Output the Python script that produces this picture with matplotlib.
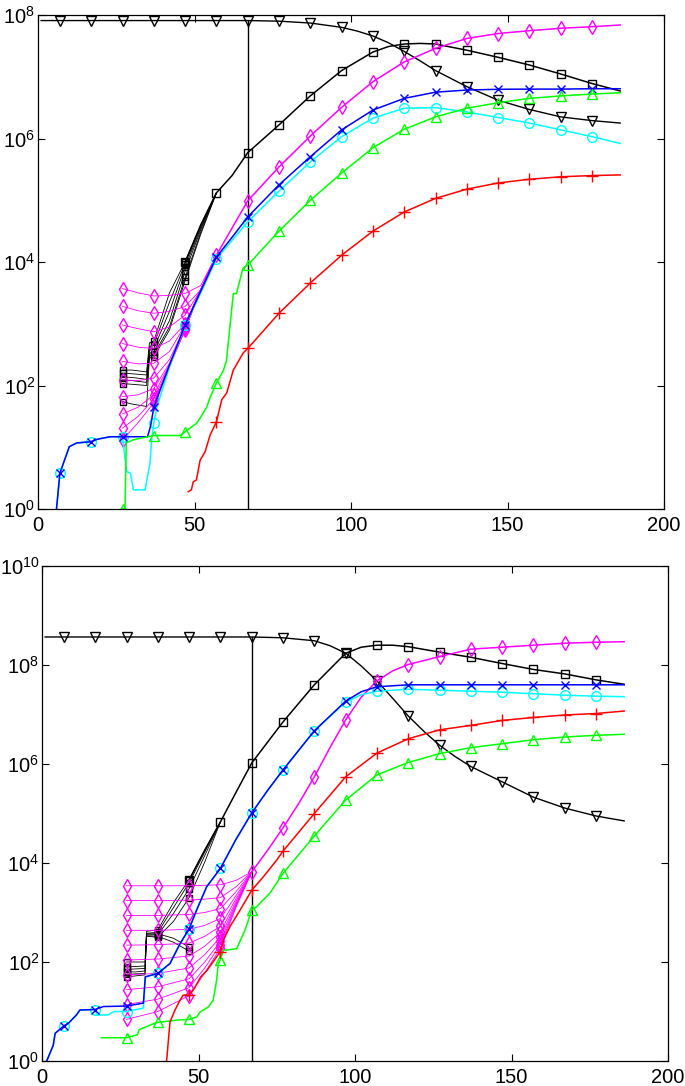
import numpy as np
import matplotlib
matplotlib.use('Agg')
import matplotlib.pyplot as plt
from matplotlib.ticker import NullLocator

plt.rcParams['font.family'] = ['Liberation Sans', 'DejaVu Sans']
plt.rcParams['mathtext.default'] = 'regular'

# marker positions along the curves
MARKS = list(range(7, 178, 10))
X_SWITCH = 67  # vertical line

# ---------------- top panel (log10 of the values) ----------------
top_tri_x = [1, 7, 17, 27, 37, 47, 57, 67, 77, 87, 97, 102, 107, 112, 117, 122, 127, 132, 137, 147, 157, 167, 177, 186]
top_tri_y = [7.91, 7.91, 7.91, 7.91, 7.91, 7.91, 7.91, 7.91, 7.90, 7.87, 7.80, 7.74, 7.66, 7.55, 7.41, 7.26, 7.10, 6.97,
             6.84, 6.62, 6.47, 6.35, 6.29, 6.25]

top_sq_x = [47, 52, 57, 62, 67, 77, 87, 97, 107, 112, 117, 122, 127, 137, 147, 157, 167, 177, 186]
top_sq_y = [4.00, 4.60, 5.12, 5.40, 5.77, 6.22, 6.69, 7.10, 7.40, 7.49, 7.53, 7.54, 7.53, 7.43, 7.315, 7.19, 7.045, 6.89, 6.77]

top_mag_x = [47, 52, 57, 62, 67, 77, 87, 97, 107, 117, 127, 137, 147, 157, 167, 177, 186]
top_mag_y = [2.98, 3.55, 4.11, 4.55, 4.99, 5.54, 6.04, 6.505, 6.92, 7.24, 7.46, 7.62, 7.70, 7.746, 7.785, 7.81, 7.838]

top_blue_x = [5.9, 7, 10, 12.4, 17, 19, 23, 27, 35, 36, 37, 42, 47, 52, 57, 62, 67, 77, 87, 97, 107, 117, 127, 137,
              147, 157, 167, 177, 186]
top_blue_y = [0.0, 0.58, 1.01, 1.07, 1.09, 1.13, 1.17, 1.17, 1.17, 1.35, 1.65, 2.33, 2.98, 3.53, 4.08, 4.40, 4.73, 5.25,
              5.705, 6.14, 6.46, 6.65, 6.75, 6.785, 6.797, 6.80, 6.80, 6.806, 6.806]

top_cyan_x = [5.9, 7, 10, 12.4, 17, 19, 23, 27, 28.3, 29.5, 30.5, 34.2, 35.8, 36.3, 37, 38, 42, 47, 52, 57, 62, 67, 77,
              87, 97, 107, 117, 127, 137, 147, 157, 167, 177, 186]
top_cyan_y = [0.0, 0.58, 1.01, 1.07, 1.09, 1.13, 1.17, 1.17, 0.61, 0.58, 0.31, 0.31, 0.75, 1.12, 1.40, 1.65, 2.30, 2.98,
              3.50, 4.05, 4.35, 4.65, 5.15, 5.62, 6.03, 6.33, 6.49, 6.50, 6.43, 6.34, 6.25, 6.14, 6.03, 5.92]

top_green_x = [27, 27.8, 28.2, 30.4, 37, 45.4, 47, 50.7, 52, 53.9, 55, 57, 59.2, 60.2, 62.4, 63.4, 65.5, 67, 77, 87, 97,
               107, 117, 127, 137, 147, 157, 167, 177, 186]
top_green_y = [0.0, 0.0, 1.07, 1.12, 1.19, 1.19, 1.25, 1.39, 1.49, 1.65, 1.81, 2.04, 2.24, 2.40, 3.49, 3.49, 3.90, 3.95,
               4.50, 5.00, 5.44, 5.85, 6.15, 6.35, 6.49, 6.58, 6.65, 6.69, 6.72, 6.74]

top_red_x = [48, 49, 49.6, 50.6, 51.8, 53.4, 55, 57, 58.7, 60.3, 62.4, 65.6, 67, 77, 87, 97, 107, 117, 127, 137, 147,
             157, 167, 177, 186]
top_red_y = [0.28, 0.31, 0.44, 0.47, 0.79, 0.93, 1.20, 1.41, 1.77, 1.88, 2.25, 2.53, 2.60, 3.17, 3.66, 4.11, 4.50, 4.81,
             5.03, 5.18, 5.28, 5.34, 5.38, 5.40, 5.41]

# ensemble runs (thin lines) in the top panel
top_mag_ens_x = [27, 32, 37, 42, 47, 52, 57]
top_mag_ens_y = [
    [3.57, 3.50, 3.45, 3.46, 3.49, 3.62, 4.11],
    [3.28, 3.21, 3.17, 3.20, 3.28, 3.55, 4.11],
    [2.98, 2.92, 2.87, 2.95, 3.14, 3.55, 4.11],
    [2.68, 2.62, 2.60, 2.72, 3.00, 3.55, 4.11],
    [2.39, 2.35, 2.36, 2.55, 2.98, 3.55, 4.11],
    [2.09, 2.08, 2.12, 2.42, 2.95, 3.55, 4.11],
    [1.82, 1.85, 1.95, 2.36, 2.93, 3.55, 4.11],
    [1.54, 1.65, 1.85, 2.34, 2.92, 3.55, 4.11],
    [1.31, 1.50, 1.78, 2.32, 2.91, 3.55, 4.11],
    [1.12, 1.40, 1.72, 2.30, 2.90, 3.55, 4.11],
]
top_blk_ens_x = [27, 30, 34.7, 35.6, 37, 42, 47, 52, 57]
top_blk_ens_y = [
    [2.25, 2.25, 2.22, 2.69, 2.72, 3.50, 4.00, 4.60, 5.12],
    [2.20, 2.19, 2.17, 2.63, 2.66, 3.35, 3.97, 4.58, 5.12],
    [2.14, 2.13, 2.10, 2.57, 2.60, 3.20, 3.92, 4.55, 5.12],
    [2.09, 2.08, 2.05, 2.52, 2.55, 3.05, 3.85, 4.52, 5.12],
    [2.03, 2.02, 2.00, 2.48, 2.50, 2.95, 3.75, 4.48, 5.12],
    [1.74, 1.70, 1.66, 2.45, 2.46, 2.90, 3.70, 4.45, 5.12],
]

# ---------------- bottom panel (log10 of the values) ----------------
bot_tri_x = [1, 7, 17, 27, 37, 47, 57, 67, 77, 87, 92, 97, 102, 107, 112, 117, 122, 127, 132, 137, 147, 157, 167, 177, 186]
bot_tri_y = [8.566, 8.566, 8.566, 8.566, 8.566, 8.566, 8.566, 8.566, 8.55, 8.49, 8.39, 8.24, 7.98, 7.68, 7.33, 6.97,
             6.66, 6.38, 6.15, 5.95, 5.64, 5.33, 5.11, 4.95, 4.85]

bot_sq_x = [47, 52, 57, 62, 67, 77, 87, 97, 102, 107, 112, 117, 127, 137, 147, 157, 167, 177, 186]
bot_sq_y = [3.66, 4.26, 4.83, 5.43, 6.02, 6.85, 7.60, 8.236, 8.36, 8.40, 8.40, 8.37, 8.26, 8.156, 8.03, 7.91, 7.82, 7.70, 7.61]

bot_mag_x = [67, 72, 77, 82, 87, 92, 97, 102, 107, 112, 117, 127, 137, 147, 157, 167, 177, 186]
bot_mag_y = [3.82, 4.25, 4.71, 5.20, 5.74, 6.33, 6.89, 7.35, 7.68, 7.88, 8.01, 8.17, 8.32, 8.36, 8.40, 8.44, 8.46, 8.47]

bot_blue_x = [1.5, 3.6, 4.2, 7, 8.4, 11, 12.1, 17, 19.6, 27, 32.4, 33, 37, 40.9, 44.1, 47, 49.4, 52.6, 57, 62, 67, 72,
              77, 87, 97, 102, 107, 117, 127, 137, 147, 157, 167, 177, 186]
bot_blue_y = [0.0, 0.32, 0.56, 0.71, 0.76, 0.93, 1.03, 1.04, 1.10, 1.11, 1.17, 1.70, 1.77, 1.97, 2.37, 2.67, 3.05, 3.52,
              3.89, 4.48, 5.01, 5.46, 5.88, 6.67, 7.27, 7.46, 7.56, 7.60, 7.60, 7.60, 7.60, 7.60, 7.60, 7.60, 7.60]

bot_cyan_x = [1.5, 3.6, 4.2, 7, 8.4, 11, 12.1, 17, 17.5, 21, 23, 27, 32.4, 33, 37, 40.9, 44.1, 47, 49.4, 52.6, 57, 62,
              67, 72, 77, 87, 97, 102, 107, 117, 127, 137, 147, 157, 167, 177, 186]
bot_cyan_y = [0.0, 0.32, 0.56, 0.71, 0.76, 0.93, 1.03, 1.04, 0.93, 0.93, 1.00, 1.00, 1.07, 1.70, 1.77, 1.97, 2.37, 2.67,
              3.05, 3.52, 3.89, 4.48, 5.01, 5.46, 5.88, 6.67, 7.25, 7.40, 7.47, 7.51, 7.49, 7.47, 7.45, 7.42, 7.39,
              7.37, 7.36]

bot_green_x = [19, 27, 30.5, 31, 35.8, 37, 43.8, 47, 49.4, 50.5, 53.1, 54.7, 55.8, 56.3, 57, 58, 59, 62.2, 64.9, 67,
               68.6, 72.8, 77, 87, 97, 107, 117, 127, 137, 147, 157, 167, 177, 186]
bot_green_y = [0.47, 0.47, 0.53, 0.63, 0.76, 0.78, 0.83, 0.84, 0.89, 0.99, 1.09, 1.23, 1.64, 1.95, 2.05, 2.24, 2.24,
               2.27, 2.65, 3.05, 3.12, 3.39, 3.79, 4.545, 5.27, 5.78, 6.03, 6.21, 6.33, 6.41, 6.49, 6.545, 6.58, 6.60]

bot_red_x = [39.8, 40.9, 42.5, 44.1, 45.1, 47, 48.7, 50.7, 52.7, 57, 58, 60.1, 63.3, 67, 70.7, 75, 77, 87, 97, 107,
             117, 127, 137, 147, 157, 167, 177, 186]
bot_red_y = [0.0, 0.79, 1.03, 1.23, 1.33, 1.33, 1.47, 1.70, 1.83, 2.21, 2.45, 2.72, 3.05, 3.45, 3.72, 4.06, 4.24, 5.0,
             5.74, 6.22, 6.51, 6.69, 6.78, 6.88, 6.94, 6.99, 7.02, 7.07]

bot_mag_ens_x = [27, 37, 47, 52, 57, 62, 67]
bot_mag_ens_y = [
    [3.54, 3.54, 3.54, 3.55, 3.56, 3.65, 3.82],
    [3.24, 3.24, 3.25, 3.27, 3.30, 3.52, 3.82],
    [2.94, 2.94, 2.96, 3.00, 3.08, 3.42, 3.82],
    [2.64, 2.64, 2.66, 2.74, 2.88, 3.34, 3.82],
    [2.34, 2.35, 2.38, 2.52, 2.72, 3.28, 3.82],
    [2.04, 2.06, 2.12, 2.32, 2.60, 3.23, 3.82],
    [1.74, 1.77, 1.88, 2.15, 2.50, 3.19, 3.82],
    [1.44, 1.50, 1.66, 2.00, 2.42, 3.16, 3.82],
    [1.14, 1.25, 1.48, 1.88, 2.35, 3.13, 3.82],
    [0.84, 1.00, 1.32, 1.78, 2.28, 3.11, 3.82],
]
bot_blk_ens_x = [27, 30, 32.9, 33.4, 37, 42, 47, 52, 57]
bot_blk_ens_y = [
    [2.00, 2.00, 2.00, 2.62, 2.65, 3.20, 3.66, 4.26, 4.83],
    [1.90, 1.91, 1.92, 2.58, 2.60, 3.10, 3.60, 4.22, 4.83],
    [1.80, 1.80, 1.82, 2.55, 2.55, 2.98, 3.48, 4.15, 4.83],
    [1.70, 1.72, 1.74, 2.52, 2.50, 2.82, 3.30, 4.02, 4.83],
]
bot_blk_cut_x = [27, 30, 32.9, 33.4, 37, 42, 47]
bot_blk_cut_y = [
    [1.85, 1.86, 1.87, 2.57, 2.57, 2.48, 2.30],
    [1.75, 1.76, 1.77, 2.53, 2.52, 2.40, 2.22],
]


def curve(ax, xs, ys, color, marker=None, ms=6, lw=1.0, marks=MARKS):
    xs = np.asarray(xs, float)
    vals = 10.0 ** np.asarray(ys, float)
    idx = [i for i, v in enumerate(xs) if v in marks]
    ax.plot(xs, vals, color=color, lw=lw, marker=marker, ms=ms, mfc='none',
            mec=color, mew=1.0, markevery=idx, clip_on=True)


def style(ax, top_exp):
    ax.set_yscale('log')
    ax.set_xlim(0, 200)
    ax.set_ylim(1, 10.0 ** top_exp)
    ax.set_xticks([0, 50, 100, 150, 200])
    ax.set_yticks([10.0 ** k for k in range(0, top_exp + 1, 2)])
    ax.yaxis.set_minor_locator(NullLocator())
    ax.tick_params(direction='in', top=True, right=True, length=5, width=0.8,
                   labelsize=14.5, colors='black')
    ax.tick_params(axis='x', pad=5)
    ax.tick_params(axis='y', pad=2)
    for s in ax.spines.values():
        s.set_linewidth(0.9)


def panel(ax, d, top_exp, ens_marks_mag, ens_marks_blk):
    ax.plot([X_SWITCH, X_SWITCH], [1, 10.0 ** d['tri_y'][0]], color='black', lw=1.0)
    curve(ax, d['tri_x'], d['tri_y'], 'black', 'v', ms=7)
    for row in d['blk_ens_y']:
        curve(ax, d['blk_ens_x'], row, 'black', 's', ms=5, lw=0.6, marks=ens_marks_blk)
    for row in d.get('blk_cut_y', []):
        curve(ax, d['blk_cut_x'], row, 'black', 's', ms=5, lw=0.6, marks=ens_marks_blk)
    curve(ax, d['sq_x'], d['sq_y'], 'black', 's', ms=5.5, lw=1.1)
    for row in d['mag_ens_y']:
        curve(ax, d['mag_ens_x'], row, '#ff00ff', 'd', ms=7, lw=0.6, marks=ens_marks_mag)
    curve(ax, d['mag_x'], d['mag_y'], '#ff00ff', 'd', ms=7, lw=1.1)
    curve(ax, d['cyan_x'], d['cyan_y'], '#00ffff', 'o', ms=7, lw=1.1)
    curve(ax, d['blue_x'], d['blue_y'], '#0000ff', 'x', ms=5.5, lw=1.1)
    curve(ax, d['green_x'], d['green_y'], '#00ff00', '^', ms=7, lw=1.1)
    curve(ax, d['red_x'], d['red_y'], '#ff0000', '+', ms=8, lw=1.1)
    style(ax, top_exp)


fig = plt.figure(figsize=(6.85, 10.86), dpi=100)
ax1 = fig.add_axes([38 / 685, 1 - 509 / 1086, 626 / 685, 494 / 1086])
ax2 = fig.add_axes([42 / 685, 1 - 1061 / 1086, 626 / 685, 495 / 1086])

top = dict(tri_x=top_tri_x, tri_y=top_tri_y, sq_x=top_sq_x, sq_y=top_sq_y,
           mag_x=top_mag_x, mag_y=top_mag_y, blue_x=top_blue_x, blue_y=top_blue_y,
           cyan_x=top_cyan_x, cyan_y=top_cyan_y, green_x=top_green_x, green_y=top_green_y,
           red_x=top_red_x, red_y=top_red_y, mag_ens_x=top_mag_ens_x, mag_ens_y=top_mag_ens_y,
           blk_ens_x=top_blk_ens_x, blk_ens_y=top_blk_ens_y)
bot = dict(tri_x=bot_tri_x, tri_y=bot_tri_y, sq_x=bot_sq_x, sq_y=bot_sq_y,
           mag_x=bot_mag_x, mag_y=bot_mag_y, blue_x=bot_blue_x, blue_y=bot_blue_y,
           cyan_x=bot_cyan_x, cyan_y=bot_cyan_y, green_x=bot_green_x, green_y=bot_green_y,
           red_x=bot_red_x, red_y=bot_red_y, mag_ens_x=bot_mag_ens_x, mag_ens_y=bot_mag_ens_y,
           blk_ens_x=bot_blk_ens_x, blk_ens_y=bot_blk_ens_y,
           blk_cut_x=bot_blk_cut_x, blk_cut_y=bot_blk_cut_y)

panel(ax1, top, 8, [27, 37, 47], [27, 37, 47])
panel(ax2, bot, 10, [27, 37, 47, 57], [27, 37, 47])

fig.savefig('out.png', dpi=100)
